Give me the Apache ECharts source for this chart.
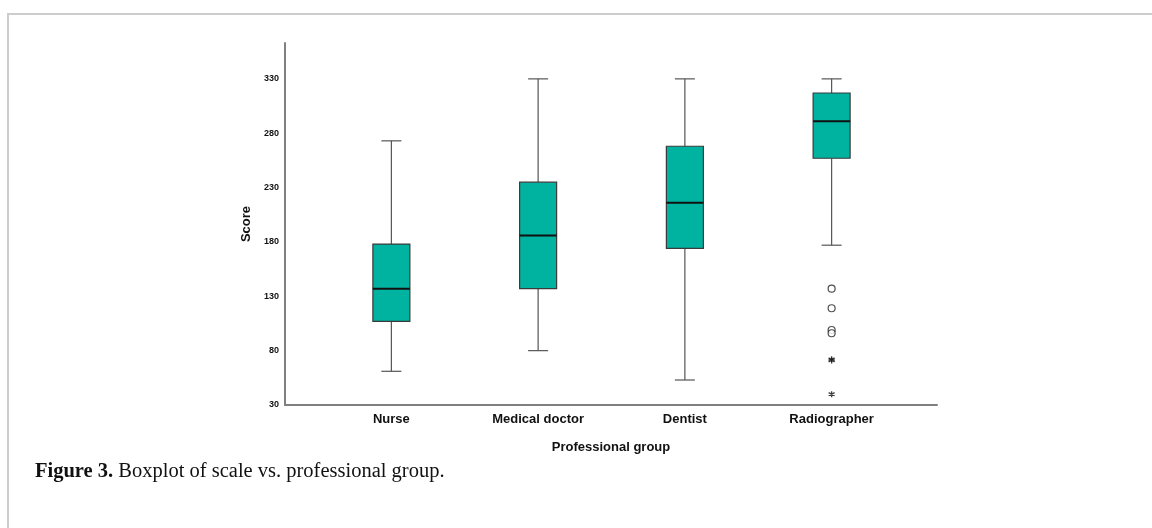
<!DOCTYPE html>
<html>
<head>
<meta charset="utf-8">
<script src="https://cdn.jsdelivr.net/npm/echarts@6/dist/echarts.min.js"></script>
<style>html,body{margin:0;padding:0;background:#fff;}#c{width:1152px;height:528px;}</style>
</head>
<body>
<div id="c"></div>
<script>
// ---- data ----
const categories = ['Nurse', 'Medical doctor', 'Dentist', 'Radiographer'];
const whiskerLow = [61, 80, 53, 177];
const quartile1 = [107, 137, 174, 257];
const medians = [137, 186, 216, 291];
const quartile3 = [178, 235, 268, 317];
const whiskerHigh = [273, 330, 330, 330];
const outlierGroup = ['Radiographer', 'Radiographer', 'Radiographer', 'Radiographer'];
const outlierValues = [137, 119, 99, 96];
const extremeGroup = ['Radiographer', 'Radiographer', 'Radiographer'];
const extremeValues = [72, 71, 40];
const yTicks = [30, 80, 130, 180, 230, 280, 330];

const boxData = categories.map((c, i) => [i, whiskerLow[i], quartile1[i], medians[i], quartile3[i], whiskerHigh[i]]);
const outlierData = outlierGroup.map((g, i) => [g, outlierValues[i]]);
const extremeData = extremeGroup.map((g, i) => [g, extremeValues[i]]);

const chart = echarts.init(document.getElementById('c'), null, {renderer: 'canvas'});
const Y_MIN = 30, Y_MAX = 363;
const BOX_W = 37, CAP_W = 20;
const starPath = 'path://M0,-10L0,10M-8.66,-5L8.66,5M-8.66,5L8.66,-5';

function renderBox(params, api) {
  const idx = api.value(0);
  const pLow = api.coord([idx, api.value(1)]);
  const pQ1 = api.coord([idx, api.value(2)]);
  const pMed = api.coord([idx, api.value(3)]);
  const pQ3 = api.coord([idx, api.value(4)]);
  const pHigh = api.coord([idx, api.value(5)]);
  const x = pMed[0];
  const wStyle = {stroke: '#555', lineWidth: 1.2, fill: null};
  return {
    type: 'group',
    children: [
      {type: 'line', shape: {x1: x, y1: pHigh[1], x2: x, y2: pQ3[1]}, style: wStyle},
      {type: 'line', shape: {x1: x, y1: pQ1[1], x2: x, y2: pLow[1]}, style: wStyle},
      {type: 'line', shape: {x1: x - CAP_W / 2, y1: pHigh[1], x2: x + CAP_W / 2, y2: pHigh[1]}, style: wStyle},
      {type: 'line', shape: {x1: x - CAP_W / 2, y1: pLow[1], x2: x + CAP_W / 2, y2: pLow[1]}, style: wStyle},
      {type: 'rect', shape: {x: x - BOX_W / 2, y: pQ3[1], width: BOX_W, height: pQ1[1] - pQ3[1]},
        style: {fill: '#00b3a0', stroke: '#3a3a3a', lineWidth: 1.2}},
      {type: 'line', shape: {x1: x - BOX_W / 2, y1: pMed[1], x2: x + BOX_W / 2, y2: pMed[1]},
        style: {stroke: '#111', lineWidth: 2}}
    ]
  };
}

const option = {
  backgroundColor: '#fff',
  animation: false,
  graphic: [
    {type: 'rect', shape: {x: 8, y: 14, width: 1200, height: 600}, style: {fill: null, stroke: '#cccccc', lineWidth: 2}, silent: true},
    {type: 'text', left: 35, top: 461, style: {
      text: '{b|Figure 3.} Boxplot of scale vs. professional group.',
      font: '20.5px "Liberation Serif"', fill: '#111',
      rich: {b: {font: 'bold 20.5px "Liberation Serif"', fill: '#111'}}
    }}
  ],
  grid: [
    {left: 285, right: 215, top: 43, bottom: 123, containLabel: false},
    {left: 318, right: 247, top: 43, bottom: 123, containLabel: false}
  ],
  xAxis: [
    {type: 'value', gridIndex: 0, min: 0, max: 1, axisLine: {show: true, lineStyle: {color: '#808080', width: 2}},
      axisTick: {show: false}, axisLabel: {show: false}, splitLine: {show: false},
      name: 'Professional group', nameLocation: 'middle', nameGap: 36,
      nameTextStyle: {fontFamily: 'Liberation Sans', fontWeight: 'bold', fontSize: 13, color: '#111'}},
    {type: 'category', gridIndex: 1, data: categories, boundaryGap: true,
      axisLine: {show: false}, axisTick: {show: false}, splitLine: {show: false},
      axisLabel: {fontFamily: 'Liberation Sans', fontWeight: 'bold', fontSize: 13, color: '#111', margin: 8}}
  ],
  yAxis: [
    {type: 'value', gridIndex: 0, min: Y_MIN, max: Y_MAX,
      axisLine: {show: true, lineStyle: {color: '#808080', width: 2}},
      axisTick: {show: false}, splitLine: {show: false},
      axisLabel: {customValues: yTicks, fontFamily: '"Liberation Sans Narrow", "Liberation Sans"', fontWeight: 'bold',
        fontSize: 9, color: '#111', margin: 6},
      name: 'Score', nameLocation: 'middle', nameGap: 32, nameRotate: 90,
      nameTextStyle: {fontFamily: 'Liberation Sans', fontWeight: 'bold', fontSize: 13, color: '#111'}},
    {type: 'value', gridIndex: 1, min: Y_MIN, max: Y_MAX, show: false, splitLine: {show: false}}
  ],
  series: [
    {type: 'custom', xAxisIndex: 1, yAxisIndex: 1, renderItem: renderBox, data: boxData,
      encode: {x: 0, y: [1, 2, 3, 4, 5]}},
    {type: 'scatter', xAxisIndex: 1, yAxisIndex: 1, data: outlierData, symbol: 'circle', symbolSize: 7,
      itemStyle: {color: '#fff', borderColor: '#222', borderWidth: 1.2}},
    {type: 'scatter', xAxisIndex: 1, yAxisIndex: 1, data: extremeData, symbol: starPath, symbolSize: 6,
      itemStyle: {color: '#111', borderColor: '#111', borderWidth: 1.3}}
  ]
};
chart.setOption(option);
</script>
</body>
</html>
